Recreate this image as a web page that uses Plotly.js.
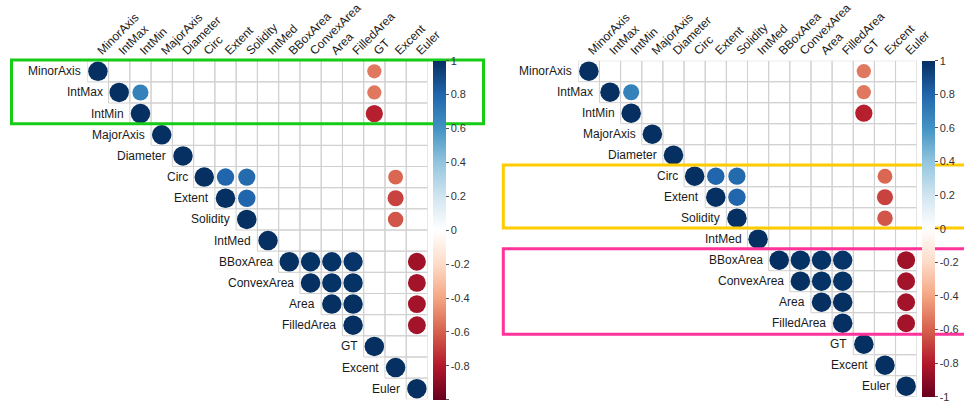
<!DOCTYPE html>
<html>
<head>
<meta charset="utf-8">
<script src="https://cdn.plot.ly/plotly-3.0.1.min.js"></script>
<style>html,body{margin:0;padding:0;background:#fff;}#chart{width:964px;height:403px;}</style>
</head>
<body>
<div id="chart"></div>
<script>
// ---- data ----
var variables = ["MinorAxis","IntMax","IntMin","MajorAxis","Diameter","Circ","Extent","Solidity","IntMed","BBoxArea","ConvexArea","Area","FilledArea","GT","Excent","Euler"];
// upper-triangle correlations (row, col, value)
var rowIdx = [0,0, 1,1,1, 2,2, 3, 4, 5,5,5,5, 6,6,6, 7,7, 8, 9,9,9,9,9, 10,10,10,10, 11,11,11, 12,12, 13, 14, 15];
var colIdx = [0,13, 1,2,13, 2,13, 3, 4, 5,6,7,14, 6,7,14, 7,14, 8, 9,10,11,12,15, 10,11,12,15, 11,12,15, 12,15, 13, 14, 15];
var corrVal = [1,-0.53, 1,0.68,-0.53, 1,-0.78, 1, 1, 1,0.80,0.78,-0.58, 1,0.80,-0.68, 1,-0.63, 1, 1,0.99,0.99,0.98,-0.85, 1,0.99,0.99,-0.84, 1,1,-0.84, 1,-0.84, 1, 1, 1];
var cbTicks = [1,0.8,0.6,0.4,0.2,0,-0.2,-0.4,-0.6,-0.8,-1];
var cbLabels = ["1","0.8","0.6","0.4","0.2","0","-0.2","-0.4","-0.6","-0.8","-1"];

// ---- styles ----
var W = 964, H = 403;
var FONT = "Liberation Sans, Arial, sans-serif";
var rdbu = ["#67001F","#B2182B","#D6604D","#F4A582","#FDDBC7","#FFFFFF","#D1E5F0","#92C5DE","#4393C3","#2166AC","#053061"];
var colorscale = rdbu.map(function(c,i){return [i/10, c];});
var maxD = 19.5;
var n = variables.length;

function px2x(p){return p/W;}
function px2y(p){return 1 - p/H;}

var panels = [
  {xa:"x", ya:"y", x0:87.3, x1:427.5, y0:60.7, y1:399.3, cbx:432.7},
  {xa:"x2", ya:"y2", x0:578.3, x1:916.7, y0:60.7, y1:396.7, cbx:921.7}
];

var data = [], shapes = [], annotations = [];
var layout = {
  width: W, height: H, margin:{l:0,r:0,t:0,b:0},
  paper_bgcolor:"#fff", plot_bgcolor:"rgba(0,0,0,0)",
  showlegend:false, font:{family:FONT, size:12, color:"#000"}
};

panels.forEach(function(p, k){
  var sfx = k===0 ? "" : "2";
  var tickIdx = variables.map(function(_,i){return i;});
  layout["xaxis"+sfx] = {
    domain:[px2x(p.x0), px2x(p.x1)], range:[-0.5, n-0.5], anchor:"y"+sfx,
    side:"top", tickmode:"array", tickvals:tickIdx, ticktext:variables,
    tickangle:-45, ticks:"", showgrid:false, zeroline:false, showline:false,
    tickfont:{family:FONT, size:12, color:"#1a1a1a"}, ticklabelstandoff:0, fixedrange:true
  };
  layout["yaxis"+sfx] = {
    domain:[px2y(p.y1), px2y(p.y0)], range:[n-0.5, -0.5], anchor:"x"+sfx,
    showticklabels:false, ticks:"", showgrid:false, zeroline:false, showline:false, fixedrange:true
  };
  // grid cells (upper triangle)
  for (var i=0;i<n;i++){
    for (var j=i;j<n;j++){
      shapes.push({type:"rect", xref:p.xa, yref:p.ya, x0:j-0.5, x1:j+0.5, y0:i-0.5, y1:i+0.5,
        line:{color:"#d0d0d0", width:1}, fillcolor:"rgba(255,255,255,0)", layer:"below"});
    }
    annotations.push({xref:p.xa, yref:p.ya, x:i-0.5, y:i, text:variables[i], showarrow:false,
      xanchor:"right", yanchor:"middle", xshift:-4, font:{family:FONT, size:12, color:"#1a1a1a"}});
  }
  data.push({
    type:"scatter", mode:"markers", xaxis:p.xa, yaxis:p.ya,
    x: colIdx, y: rowIdx, hoverinfo:"skip",
    marker:{
      size: corrVal.map(function(v){return maxD*Math.sqrt(Math.abs(v));}),
      color: corrVal, cmin:-1, cmax:1, colorscale:colorscale, line:{width:0}, opacity:1,
      showscale:true,
      colorbar:{
        x:px2x(p.cbx), xanchor:"left", xref:"paper",
        y:px2y(p.y0), yanchor:"top", yref:"paper",
        len:(p.y1-p.y0), lenmode:"pixels", thickness:13, thicknessmode:"pixels",
        xpad:0, ypad:0, outlinewidth:0,
        tickmode:"array", tickvals:cbTicks, ticktext:cbLabels,
        ticks:"outside", ticklen:3, tickwidth:1, tickcolor:"#555",
        tickfont:{family:FONT, size:11, color:"#333"}
      }
    }
  });
});

// highlight boxes
shapes.push({type:"rect", xref:"paper", yref:"paper", x0:px2x(11.5), x1:px2x(483.5), y0:px2y(123.8), y1:px2y(60),
  line:{color:"#16cc16", width:3}, fillcolor:"rgba(0,0,0,0)", layer:"above"});
shapes.push({type:"rect", xref:"paper", yref:"paper", x0:px2x(503.3), x1:px2x(975), y0:px2y(228), y1:px2y(165),
  line:{color:"#ffcc00", width:3}, fillcolor:"rgba(0,0,0,0)", layer:"above"});
shapes.push({type:"rect", xref:"paper", yref:"paper", x0:px2x(503.3), x1:px2x(975), y0:px2y(334.3), y1:px2y(248.8),
  line:{color:"#ff3399", width:3}, fillcolor:"rgba(0,0,0,0)", layer:"above"});

layout.shapes = shapes;
layout.annotations = annotations;

Plotly.newPlot("chart", data, layout, {displayModeBar:false, staticPlot:true});
</script>
</body>
</html>
